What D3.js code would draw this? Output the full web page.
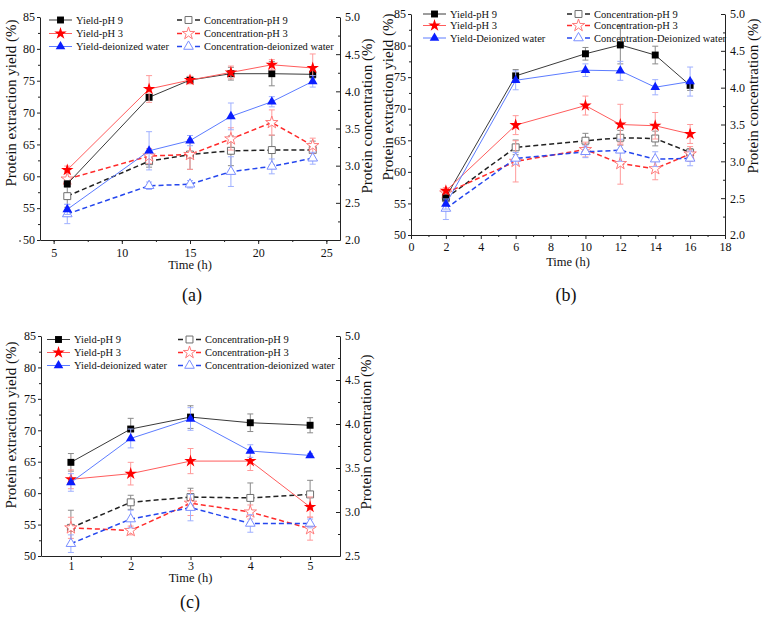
<!doctype html>
<html lang="en">
<head>
    <meta charset="utf-8">
    <title>Protein extraction yield and concentration</title>
    <style>
        body { margin: 0; background: #fff; }
        svg text { font-family: "Liberation Serif", "Times New Roman", serif; fill: #111; font-weight: normal; }
    </style>
</head>
<body>
<div id="chart"></div>
<script src="https://cdnjs.cloudflare.com/ajax/libs/d3/7.8.5/d3.min.js"></script>
<script>
    // ---- panel (a): time 6..24 h
    const timeA = [6, 12, 15, 18, 21, 24];
    const yieldPH9A = [58.8, 72.4, 75.1, 76.1, 76.1, 76.0];
    const yieldPH9ErrA = [0.5, 0.4, 0.5, 1.0, 1.9, 0.6];
    const yieldPH3A = [61.0, 73.7, 75.1, 76.3, 77.5, 77.0];
    const yieldPH3ErrA = [0.6, 2.1, 0.6, 1.0, 0.8, 2.2];
    const yieldDIA = [54.8, 64.0, 65.6, 69.4, 71.7, 74.9];
    const yieldDIErrA = [0.8, 3.0, 0.8, 2.1, 0.8, 0.9];
    const concPH9A = [2.59, 3.06, 3.15, 3.20, 3.21, 3.21];
    const concPH9ErrA = [0.15, 0.08, 0.2, 0.2, 0.2, 0.12];
    const concPH3A = [2.82, 3.13, 3.15, 3.36, 3.58, 3.27];
    const concPH3ErrA = [0.1, 0.1, 0.2, 0.15, 0.17, 0.1];
    const concDIA = [2.35, 2.73, 2.75, 2.92, 2.99, 3.10];
    const concDIErrA = [0.13, 0.05, 0.05, 0.2, 0.1, 0.08];

    // ---- panel (b): time 2..16 h
    const timeB = [2, 6, 10, 12, 14, 16];
    const yieldPH9B = [56.0, 75.2, 78.7, 80.1, 78.5, 73.7];
    const yieldPH9ErrB = [0.5, 1.0, 1.0, 3.0, 1.4, 0.8];
    const yieldPH3B = [57.0, 67.4, 70.5, 67.5, 67.3, 66.0];
    const yieldPH3ErrB = [0.5, 1.5, 1.5, 3.2, 2.1, 1.5];
    const yieldDIB = [54.9, 74.5, 76.1, 76.0, 73.4, 74.3];
    const yieldDIErrB = [0.8, 1.5, 1.0, 1.5, 1.2, 2.3];
    const concPH9B = [2.50, 3.19, 3.28, 3.32, 3.31, 3.12];
    const concPH9ErrB = [0.05, 0.1, 0.1, 0.1, 0.1, 0.05];
    const concPH3B = [2.57, 3.00, 3.16, 2.97, 2.90, 3.10];
    const concPH3ErrB = [0.05, 0.28, 0.1, 0.28, 0.15, 0.1];
    const concDIB = [2.36, 3.04, 3.13, 3.15, 3.03, 3.04];
    const concDIErrB = [0.15, 0.08, 0.08, 0.15, 0.1, 0.1];

    // ---- panel (c): time 1..5 h
    const timeC = [1, 2, 3, 4, 5];
    const yieldPH9C = [64.9, 70.2, 72.1, 71.2, 70.8];
    const yieldPH9ErrC = [1.4, 1.7, 1.8, 1.4, 1.2];
    const yieldPH3C = [62.2, 63.1, 65.1, 65.1, 57.8];
    const yieldPH3ErrC = [1.5, 1.8, 2.0, 1.5, 1.6];
    const yieldDIC = [61.7, 68.7, 71.8, 66.7, 66.0];
    const yieldDIErrC = [1.4, 1.5, 1.8, 1.0, 0.3];
    const concPH9C = [2.82, 3.11, 3.17, 3.16, 3.20];
    const concPH9ErrC = [0.2, 0.08, 0.1, 0.17, 0.16];
    const concPH3C = [2.82, 2.79, 3.10, 3.00, 2.81];
    const concPH3ErrC = [0.12, 0.05, 0.14, 0.08, 0.13];
    const concDIC = [2.64, 2.92, 3.05, 2.87, 2.87];
    const concDIErrC = [0.1, 0.1, 0.15, 0.1, 0.05];

    const yieldTicks = [50, 55, 60, 65, 70, 75, 80, 85];

    const width = 770;
    const height = 619;
    const svg = d3.select("#chart").append("svg").attr("width", width).attr("height", height);

    // one style per series kind
    const styles = {
        yPH9: { sym: d3.symbolSquare, size: 48, line: "#3a3a3a", mark: "#000", err: "#8a8a8a", open: false, dash: null },
        yPH3: { sym: d3.symbolStar, size: 48, line: "#ff5c5c", mark: "#ff0000", err: "#ff9a9a", open: false, dash: null },
        yDI: { sym: d3.symbolTriangle, size: 40, line: "#5c7cff", mark: "#0a1eff", err: "#9fb0ff", open: false, dash: null },
        cPH9: { sym: d3.symbolSquare, size: 48, line: "#222", mark: "#6e6e6e", err: "#8a8a8a", open: true, dash: "5,3" },
        cPH3: { sym: d3.symbolStar, size: 48, line: "#ff2a2a", mark: "#ff7a7a", err: "#ff9a9a", open: true, dash: "5,3" },
        cDI: { sym: d3.symbolTriangle, size: 40, line: "#2446ee", mark: "#7b8fff", err: "#9fb0ff", open: true, dash: "5,3" }
    };

    function makeSeries(names, vals) {
        const keys = ["yPH9", "yPH3", "yDI", "cPH9", "cPH3", "cDI"];
        return keys.map((k, i) => ({
            key: k,
            name: names[i],
            axis: k[0] === "y" ? "left" : "right",
            vals: vals[i * 2],
            err: vals[i * 2 + 1]
        }));
    }

    const panels = [
        {
            left: 40, right: 340, top: 17, bottom: 240,
            xDomain: [4, 26], xTicks: [5, 10, 15, 20, 25], xMinor: d3.range(2.5, 26, 2.5),
            rDomain: [2, 5], rTicks: d3.range(2, 5.01, 0.5),
            time: timeA,
            series: makeSeries(
                ["Yield-pH 9", "Yield-pH 3", "Yield-deionized water", "Concentration-pH 9", "Concentration-pH 3", "Concentration-deionized water"],
                [yieldPH9A, yieldPH9ErrA, yieldPH3A, yieldPH3ErrA, yieldDIA, yieldDIErrA, concPH9A, concPH9ErrA, concPH3A, concPH3ErrA, concDIA, concDIErrA]),
            legL: 49, legR: 177, legY: [20, 33.5, 46.5],
            xLabelY: 269, xPad: 4, yLabelX: 13, yLabelY: 103, rLabelX: 369, rLabelY: 116,
            tag: "(a)", tagX: 192, tagY: 301
        },
        {
            left: 411, right: 725, top: 14, bottom: 235,
            xDomain: [0, 18], xTicks: d3.range(0, 19, 2), xMinor: d3.range(1, 18, 2),
            rDomain: [2, 5], rTicks: d3.range(2, 5.01, 0.5),
            time: timeB,
            series: makeSeries(
                ["Yield-pH 9", "Yield-pH 3", "Yield-Deionized water", "Concentration-pH 9", "Concentration-pH 3", "Concentration-Deionized water"],
                [yieldPH9B, yieldPH9ErrB, yieldPH3B, yieldPH3ErrB, yieldDIB, yieldDIErrB, concPH9B, concPH9ErrB, concPH3B, concPH3ErrB, concDIB, concDIErrB]),
            legL: 423, legR: 567, legY: [14, 25.5, 38],
            xLabelY: 266, xPad: 3, yLabelX: 390, yLabelY: 97, rLabelX: 755, rLabelY: 96,
            tag: "(b)", tagX: 566, tagY: 301
        },
        {
            left: 41, right: 340, top: 336, bottom: 556,
            xDomain: [0.5, 5.5], xTicks: [1, 2, 3, 4, 5], xMinor: [1.5, 2.5, 3.5, 4.5],
            rDomain: [2.5, 5], rTicks: d3.range(2.5, 5.01, 0.5),
            time: timeC,
            series: makeSeries(
                ["Yield-pH 9", "Yield-pH 3", "Yield-deionized water", "Concentration-pH 9", "Concentration-pH 3", "Concentration-deionized water"],
                [yieldPH9C, yieldPH9ErrC, yieldPH3C, yieldPH3ErrC, yieldDIC, yieldDIErrC, concPH9C, concPH9ErrC, concPH3C, concPH3ErrC, concDIC, concDIErrC]),
            legL: 47, legR: 178, legY: [339.5, 352.5, 365.5],
            xLabelY: 582, xPad: 1, yLabelX: 13, yLabelY: 425, rLabelX: 368, rLabelY: 432,
            tag: "(c)", tagX: 190, tagY: 608
        }
    ];

    panels.forEach(drawPanel);

    function drawPanel(p) {
        const x = d3.scaleLinear().domain(p.xDomain).range([p.left, p.right]);
        const yL = d3.scaleLinear().domain([50, 85]).range([p.bottom, p.top]);
        const yR = d3.scaleLinear().domain(p.rDomain).range([p.bottom, p.top]);
        const g = svg.append("g");

        // axes
        g.append("g").attr("transform", `translate(0,${p.bottom})`)
            .call(d3.axisBottom(x).tickValues(p.xTicks).tickSize(4).tickSizeOuter(0).tickPadding(p.xPad).tickFormat(d3.format("d")));
        g.append("g").attr("transform", `translate(0,${p.bottom})`)
            .call(d3.axisBottom(x).tickValues(p.xMinor).tickSize(2).tickSizeOuter(0).tickFormat(""))
            .select(".domain").remove();

        g.append("g").attr("transform", `translate(${p.left},0)`)
            .call(d3.axisLeft(yL).tickValues(yieldTicks).tickSize(3).tickSizeOuter(0).tickPadding(2));
        g.append("g").attr("transform", `translate(${p.left},0)`)
            .call(d3.axisLeft(yL).tickValues(d3.range(52.5, 85, 5)).tickSize(2).tickFormat(""))
            .select(".domain").remove();

        g.append("g").attr("transform", `translate(${p.right},0)`)
            .call(d3.axisRight(yR).tickValues(p.rTicks).tickSize(-4).tickSizeOuter(0).tickPadding(5).tickFormat(d3.format(".1f")));
        g.append("g").attr("transform", `translate(${p.right},0)`)
            .call(d3.axisRight(yR).tickValues(p.rTicks.slice(1).map(v => v - 0.25)).tickSize(-2).tickFormat(""))
            .select(".domain").remove();

        g.selectAll(".tick text").attr("font-size", 12);
        g.selectAll(".domain, .tick line").attr("stroke", "#222");

        // titles
        g.append("text").attr("x", (p.left + p.right) / 2).attr("y", p.xLabelY)
            .attr("text-anchor", "middle").attr("font-size", 12.5).text("Time (h)");
        g.append("text").attr("transform", `translate(${p.yLabelX},${p.yLabelY}) rotate(-90)`)
            .attr("text-anchor", "middle").attr("dominant-baseline", "middle").attr("font-size", 15)
            .text("Protein extraction yield (%)");
        g.append("text").attr("transform", `translate(${p.rLabelX},${p.rLabelY}) rotate(-90)`)
            .attr("text-anchor", "middle").attr("dominant-baseline", "middle").attr("font-size", 15)
            .text("Protein concentration (%)");
        g.append("text").attr("x", p.tagX).attr("y", p.tagY)
            .attr("text-anchor", "middle").attr("font-size", 18).text(p.tag);

        // series: error bars, then lines, then markers
        const order = ["cPH9", "cPH3", "cDI", "yPH9", "yPH3", "yDI"];
        order.forEach(k => {
            const s = p.series.find(d => d.key === k);
            const st = styles[k];
            const y = s.axis === "left" ? yL : yR;
            const pts = p.time.map((t, i) => ({ t: t, v: s.vals[i], e: s.err[i] }));

            const eb = g.append("g").attr("stroke", st.err).attr("stroke-width", 1).attr("fill", "none");
            eb.selectAll("path").data(pts).join("path")
                .attr("d", d => {
                    const cx = x(d.t), y0 = y(d.v - d.e), y1 = y(d.v + d.e);
                    return `M${cx},${y0}V${y1}M${cx - 3},${y0}H${cx + 3}M${cx - 3},${y1}H${cx + 3}`;
                });

            g.append("path").datum(pts)
                .attr("fill", "none")
                .attr("stroke", st.line)
                .attr("stroke-width", st.dash ? 1.5 : 1)
                .attr("stroke-dasharray", st.dash)
                .attr("d", d3.line().x(d => x(d.t)).y(d => y(d.v)));

            g.append("g").selectAll("path").data(pts).join("path")
                .attr("transform", d => `translate(${x(d.t)},${y(d.v)})`)
                .attr("d", d3.symbol(st.sym, st.size))
                .attr("fill", st.open ? "#fff" : st.mark)
                .attr("stroke", st.open ? st.mark : "none")
                .attr("stroke-width", 1);
        });

        // legend
        p.series.forEach((s, i) => {
            const st = styles[s.key];
            const col = i < 3 ? p.legL : p.legR;
            const ly = p.legY[i % 3];
            const lg = g.append("g").attr("transform", `translate(${col},${ly})`);
            if (st.dash) {
                lg.append("path").attr("d", "M0,0H5M18,0H23").attr("stroke", st.line).attr("stroke-width", 1.5);
            } else {
                lg.append("path").attr("d", "M0,0H23").attr("stroke", st.line).attr("stroke-width", 1);
            }
            lg.append("path").attr("transform", "translate(11.5,0)")
                .attr("d", d3.symbol(st.sym, st.size))
                .attr("fill", st.open ? "#fff" : st.mark)
                .attr("stroke", st.open ? st.mark : "none");
            lg.append("text").attr("x", 27).attr("y", 0).attr("dominant-baseline", "central")
                .attr("font-size", 10.5).text(s.name);
        });
    }
</script>
</body>
</html>
